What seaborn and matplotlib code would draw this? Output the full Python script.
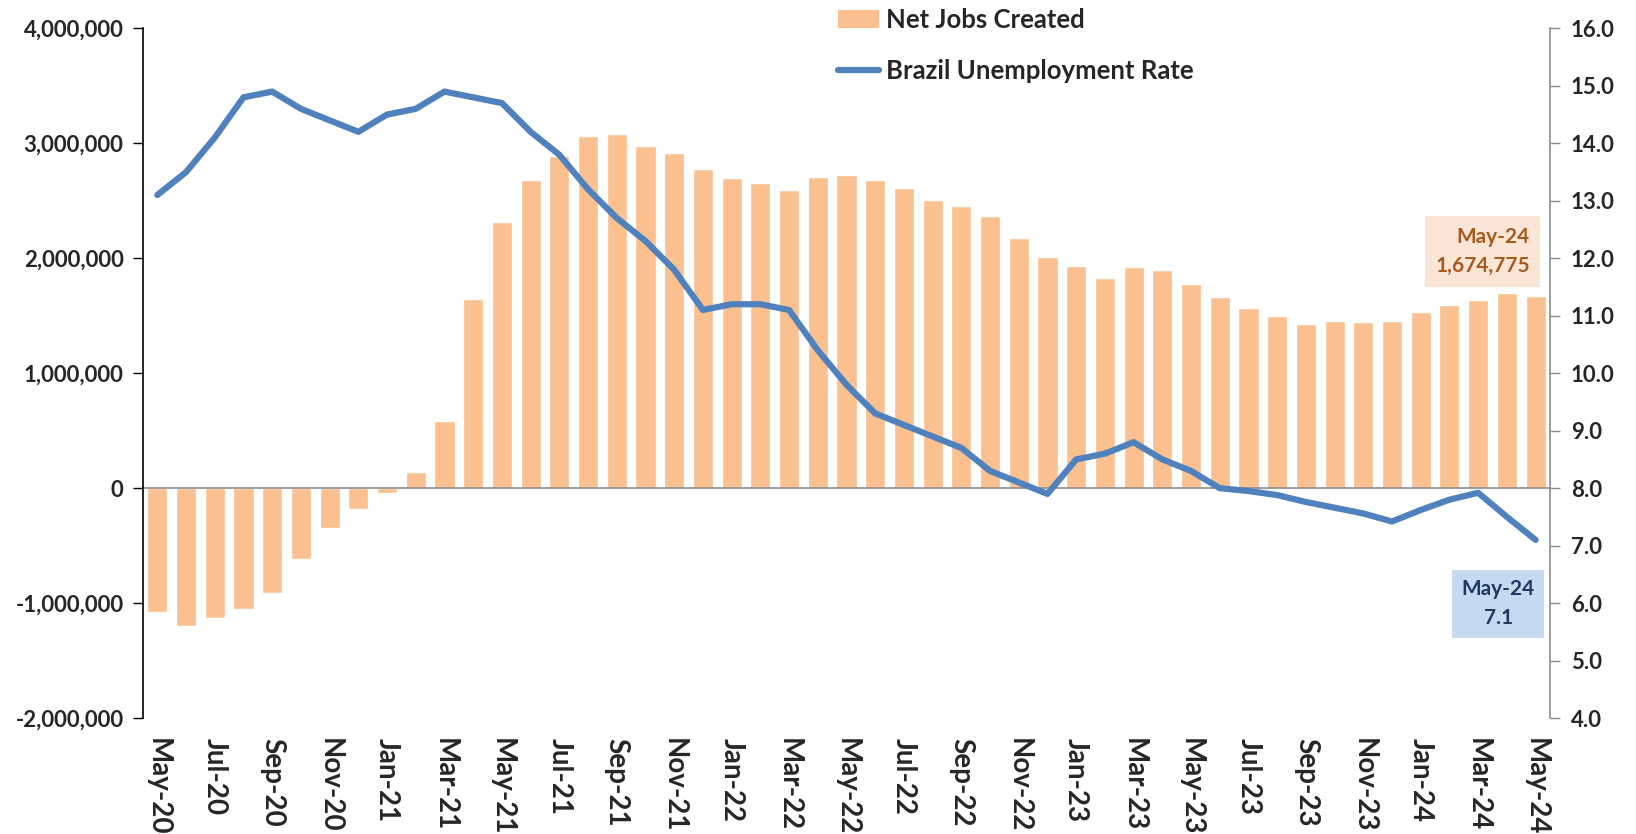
import numpy as np
import pandas as pd
import matplotlib
matplotlib.use("Agg")
import matplotlib.pyplot as plt
import seaborn as sns
from matplotlib.patches import Patch
from matplotlib.lines import Line2D
from matplotlib.ticker import FuncFormatter

# monthly labels May-20 .. May-24
months = ["May-20", "Jun-20", "Jul-20", "Aug-20", "Sep-20", "Oct-20", "Nov-20", "Dec-20",
          "Jan-21", "Feb-21", "Mar-21", "Apr-21", "May-21", "Jun-21", "Jul-21", "Aug-21",
          "Sep-21", "Oct-21", "Nov-21", "Dec-21", "Jan-22", "Feb-22", "Mar-22", "Apr-22",
          "May-22", "Jun-22", "Jul-22", "Aug-22", "Sep-22", "Oct-22", "Nov-22", "Dec-22",
          "Jan-23", "Feb-23", "Mar-23", "Apr-23", "May-23", "Jun-23", "Jul-23", "Aug-23",
          "Sep-23", "Oct-23", "Nov-23", "Dec-23", "Jan-24", "Feb-24", "Mar-24", "Apr-24",
          "May-24"]

# net jobs created (12m rolling)
net_jobs = [-1076000, -1198000, -1128000, -1052000, -910000, -619000, -343000, -183000,
            -38000, 137000, 581000, 1645000, 2315000, 2685000, 2887000, 3060000,
            3084000, 2974000, 2916000, 2777000, 2699000, 2656000, 2598000, 2708000,
            2720000, 2685000, 2607000, 2506000, 2454000, 2367000, 2173000, 2012000,
            1934000, 1832000, 1922000, 1896000, 1775000, 1660000, 1567000, 1500000,
            1428000, 1457000, 1448000, 1457000, 1535000, 1592000, 1636000, 1697000,
            1674775]

# unemployment rate (%)
unemp = [13.1, 13.5, 14.1, 14.8, 14.9, 14.6, 14.4, 14.2,
         14.5, 14.6, 14.9, 14.8, 14.7, 14.2, 13.8, 13.2,
         12.7, 12.3, 11.8, 11.1, 11.2, 11.2, 11.1, 10.4,
         9.8, 9.3, 9.1, 8.9, 8.7, 8.3, 8.1, 7.9,
         8.5, 8.6, 8.8, 8.5, 8.3, 8.0, 7.95, 7.88,
         7.76, 7.66, 7.56, 7.42, 7.62, 7.8, 7.92, 7.5,
         7.1]

bar_color = "#FAC090"
line_color = "#4F81BD"

df = pd.DataFrame({"month": months, "jobs": net_jobs, "rate": unemp, "idx": np.arange(len(months))})

sns.set_theme(style="white")
plt.rcParams["font.family"] = ["Lato", "DejaVu Sans"]
plt.rcParams["font.weight"] = "bold"

fig = plt.figure(figsize=(16.36, 8.34), dpi=100)
ax = fig.add_axes([0.0874, 0.139, 0.86, 0.827])

sns.barplot(data=df, x="month", y="jobs", color=bar_color, saturation=1, width=0.7, ax=ax)
ax.axhline(0, color="#8c8c8c", lw=1.2, zorder=1)
ax.set_ylim(-2000000, 4000000)
ax.set_yticks(np.arange(-2000000, 4000001, 1000000))
ax.yaxis.set_major_formatter(FuncFormatter(lambda v, p: f"{int(v):,}"))
ax.set_xlabel("")
ax.set_ylabel("")
ax.set_xticks(np.arange(0, len(months), 2))
ax.set_xticklabels(months[::2], rotation=270, ha="center", va="top")
ax.tick_params(axis="x", length=0, pad=14, labelsize=20)
ax.tick_params(axis="y", left=True, length=7, width=1, color="black", pad=7, labelsize=16)
for s in ["top", "right", "bottom"]:
    ax.spines[s].set_visible(False)
ax.spines["left"].set_color("black")
ax.spines["left"].set_linewidth(1.2)

ax2 = ax.twinx()
sns.lineplot(data=df, x="idx", y="rate", color=line_color, lw=4.5, ax=ax2,
             solid_capstyle="round", solid_joinstyle="round")
ax2.set_ylim(4, 16)
ax2.set_yticks(np.arange(4, 16.1, 1))
ax2.yaxis.set_major_formatter(FuncFormatter(lambda v, p: f"{v:.1f}"))
ax2.set_xlabel("")
ax2.set_ylabel("")
ax2.tick_params(axis="y", right=True, length=7, width=1, color="#8c8c8c", pad=8, labelsize=16)
for s in ["top", "left", "bottom"]:
    ax2.spines[s].set_visible(False)
ax2.spines["right"].set_color("#8c8c8c")
ax2.spines["right"].set_linewidth(1.2)

# end-point callouts
last = len(months) - 1
ax.annotate(f"{months[last]}\n{net_jobs[last]:,}", xy=(last, net_jobs[last]),
            xytext=(last - 0.2, 2060000), ha="right", va="center",
            color="#A65A1E", fontsize=15, fontweight="bold", linespacing=1.6,
            bbox=dict(boxstyle="square,pad=0.5", fc="#FBE5D6", ec="none"))
ax2.annotate(f"{months[last]}\n{unemp[last]}", xy=(last, unemp[last]),
             xytext=(last - 1.3, 5.99), ha="center", va="center",
             color="#1F3864", fontsize=15, fontweight="bold", linespacing=1.6,
             bbox=dict(boxstyle="square,pad=0.45", fc="#C5D9F1", ec="none"))

ax.set_xlim(-0.5, len(months) - 0.5)
ax2.set_xlim(-0.5, len(months) - 0.5)

handles = [Patch(facecolor=bar_color, edgecolor="none", label="Net Jobs Created"),
           Line2D([0], [0], color=line_color, lw=4.5, label="Brazil Unemployment Rate")]
fig.legend(handles=handles, loc="upper left", bbox_to_anchor=(0.512, 0.99), frameon=False,
           handlelength=1.6, handletextpad=0.3, labelspacing=1.05,
           borderpad=0, borderaxespad=0, prop={"weight": "bold", "size": 18.5})

fig.savefig("out.png", dpi=100)
